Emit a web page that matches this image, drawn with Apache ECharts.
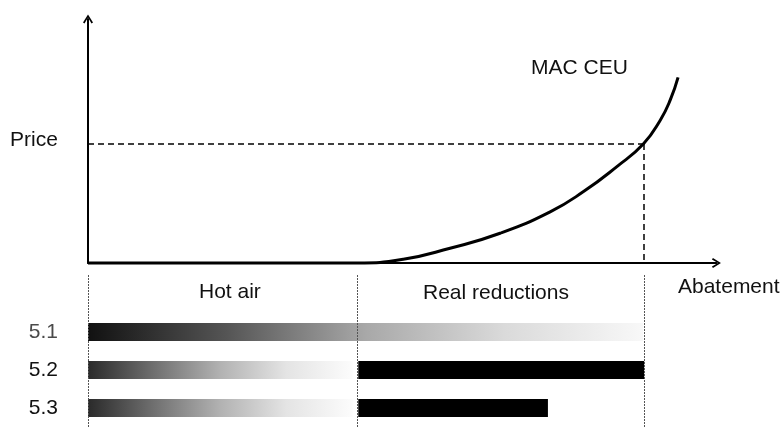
<!DOCTYPE html>
<html><head><meta charset="utf-8">
<script src="https://cdn.jsdelivr.net/npm/echarts@6/dist/echarts.min.js"></script>
<style>html,body{margin:0;padding:0;background:#fff}#c{width:784px;height:430px}</style>
</head><body><div id="c"></div>
<script>
// Marginal abatement cost curve (abatement units, price units)
const macAbatement = [0, 48.3, 56.7, 65.1, 74.1, 83.1, 89.1, 95.1, 99.85, 102.9, 104.7, 106.1];
const macPrice     = [0, 0,    0.31, 1.24, 2.5,  4.3,  6.0,  8.1,  10.0,  12.0,  13.7,  15.6];
const priceLevel = 10;
const equilibriumAbatement = 100;
const hotAirLimit = 48.4;

// Scenario rows
const scenarioLabels = ['5.1', '5.2', '5.3'];
const hotAirFrom = [0, 0, 0];
const hotAirTo   = [99.8, 47.6, 47.6];
const realFrom   = [null, 48.6, 48.6];
const realTo     = [null, 100, 82.7];
const regionLabels = ['Hot air', 'Real reductions'];

const FONT = '"Liberation Sans", Arial, sans-serif';
const X_MAX = 113, Y_MAX = 20.5;
const PX_PER_X = 5.5614;
const gridRight = 784 - 88 - X_MAX * PX_PER_X;

const arrowPath = 'path://M5,0 L10,8 L8.5,9 L5,3 L1.5,9 L0,8 Z';

const rowCats = [''].concat(scenarioLabels);
const gradData = [], solidData = [];
scenarioLabels.forEach((l, i) => {
  gradData.push([i + 1, hotAirFrom[i], hotAirTo[i]]);
  if (realFrom[i] != null) solidData.push([i + 1, realFrom[i], realTo[i]]);
});

const gradFull = {type:'linear', x:0, y:0, x2:1, y2:0, colorStops:[
  {offset:0, color:'#111'}, {offset:0.25, color:'#555'}, {offset:0.5, color:'#a8a8a8'},
  {offset:0.75, color:'#dadada'}, {offset:1, color:'#f8f8f8'}]};
const gradHalf = {type:'linear', x:0, y:0, x2:1, y2:0, colorStops:[
  {offset:0, color:'#2a2a2a'}, {offset:0.25, color:'#707070'}, {offset:0.5, color:'#b2b2b2'},
  {offset:0.75, color:'#e4e4e4'}, {offset:1, color:'#fcfcfc'}]};

function barRenderer(kind) {
  return function (params, api) {
    const row = api.value(0);
    const p0 = api.coord([api.value(1), row]);
    const p1 = api.coord([api.value(2), row]);
    const h = 18;
    let fill = '#000';
    if (kind === 'grad') fill = (row === 1) ? gradFull : gradHalf;
    return {type:'rect', shape:{x:p0[0], y:p0[1] - h / 2, width:p1[0] - p0[0], height:h}, style:{fill: fill}};
  };
}

const chart = echarts.init(document.getElementById('c'), null, {renderer:'canvas'});
chart.setOption({
  animation: false,
  backgroundColor: '#fff',
  grid: [
    {left: 88, right: gridRight, top: 19, bottom: 167},
    {left: 88, right: gridRight, top: 275, height: 152}
  ],
  xAxis: [
    {gridIndex:0, type:'value', min:0, max:X_MAX,
     axisLine:{show:true, lineStyle:{color:'#000', width:2}, symbol:['none', arrowPath], symbolSize:[10, 9]},
     axisTick:{show:false}, axisLabel:{show:false}, splitLine:{show:false}},
    {gridIndex:1, type:'value', min:0, max:X_MAX, show:false}
  ],
  yAxis: [
    {gridIndex:0, type:'value', min:0, max:Y_MAX,
     axisLine:{show:true, lineStyle:{color:'#000', width:2}, symbol:['none', arrowPath], symbolSize:[10, 9]},
     axisTick:{show:false}, axisLabel:{show:false}, splitLine:{show:false}},
    {gridIndex:1, type:'category', data:rowCats, inverse:true,
     axisLine:{show:false}, axisTick:{show:false}, splitLine:{show:false},
     axisLabel:{margin:30, fontSize:21, fontFamily:FONT, padding:[0,0,4,0],
       color: function (v) { return v === '5.1' ? '#4a4a4a' : '#111'; }}}
  ],
  series: [
    {type:'line', name:'MAC CEU', xAxisIndex:0, yAxisIndex:0, clip:false,
     data: macAbatement.map((x, i) => [x, macPrice[i]]),
     smooth: 0.5, showSymbol:false, symbol:'none',
     lineStyle:{color:'#000', width:3}, z:5,
     markLine:{silent:true, symbol:'none', label:{show:false},
       lineStyle:{color:'#000', width:1.5, type:[6, 4]},
       data:[
         [{coord:[0, priceLevel]}, {coord:[equilibriumAbatement, priceLevel]}],
         [{coord:[equilibriumAbatement, priceLevel]}, {coord:[equilibriumAbatement, 0]}]
       ]}},
    {type:'custom', name:'Gradient', xAxisIndex:1, yAxisIndex:1, renderItem:barRenderer('grad'),
     data:gradData, encode:{x:[1, 2], y:0},
     markLine:{silent:true, symbol:'none', label:{show:false},
       lineStyle:{color:'#555', width:1, type:[2, 1]},
       data:[{xAxis:0}, {xAxis:hotAirLimit}, {xAxis:equilibriumAbatement}]}},
    {type:'custom', name:'Real reductions', xAxisIndex:1, yAxisIndex:1, renderItem:barRenderer('solid'),
     data:solidData, encode:{x:[1, 2], y:0}}
  ],
  graphic: [
    {type:'text', left:10, top:130, style:{text:'Price', fontSize:21, fontFamily:FONT, fill:'#111'}},
    {type:'text', left:531, top:58, style:{text:'MAC CEU', fontSize:21, fontFamily:FONT, fill:'#111'}},
    {type:'text', left:199, top:282, style:{text:regionLabels[0], fontSize:21, fontFamily:FONT, fill:'#111'}},
    {type:'text', left:423, top:283, style:{text:regionLabels[1], fontSize:21, fontFamily:FONT, fill:'#111'}},
    {type:'text', left:678, top:277, style:{text:'Abatement', fontSize:21, fontFamily:FONT, fill:'#111'}}
  ]
});
</script>
</body></html>
